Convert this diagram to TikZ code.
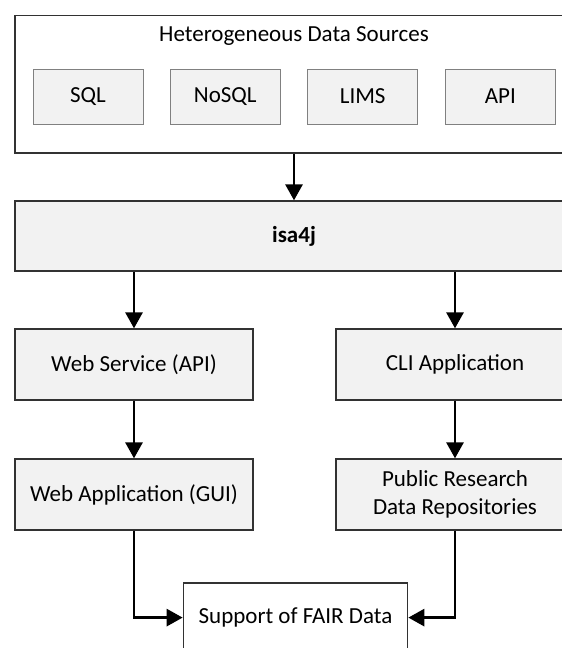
\documentclass[tikz,border=0pt]{standalone}
\usepackage{fontspec}
\setmainfont{Carlito}
\usetikzlibrary{arrows.meta}
\definecolor{boxline}{RGB}{50,50,50}
\definecolor{innerline}{RGB}{128,128,128}
\definecolor{boxfill}{RGB}{242,242,242}
\tikzset{
  txt/.style={font=\fontsize{23}{28}\selectfont, text=black},
  mainbox/.style={txt, draw=boxline, line width=1.3pt, inner sep=0pt, align=center},
  grayfill/.style={mainbox, fill=boxfill},
  innerbox/.style={txt, draw=innerline, line width=0.9pt, fill=boxfill, inner sep=0pt,
    minimum width=110pt, minimum height=55pt},
  conn/.style={line width=2.8pt, black, -{Triangle[length=16pt,width=17pt]}},
}
\begin{document}
\begin{tikzpicture}[x=1pt,y=-1pt]
\useasboundingbox (0,0) rectangle (562,648);
\clip (0,0) rectangle (562,648);
% top container
\node[mainbox, fill=white, minimum width=558pt, minimum height=137.5pt] (src) at (294,84.25) {};
\node[txt] (srctitle) at (294,36) {Heterogeneous Data Sources};
\node[innerbox] (sql) at (88,96.5) {SQL};
\node[innerbox] (nosql) at (225.3,96.5) {NoSQL};
\node[innerbox] (lims) at (362.7,96.5) {LIMS};
\node[innerbox] (api) at (500.3,96.5) {API};
% isa4j
\node[grayfill, minimum width=558pt, minimum height=70pt] (isa) at (294,236) {\textbf{isa4j}};
% second row
\node[grayfill, minimum width=238pt, minimum height=71pt] (ws) at (134,364.5) {Web Service (API)};
\node[grayfill, minimum width=238pt, minimum height=71pt] (cli) at (455,364.5) {CLI Application};
% third row
\node[grayfill, minimum width=238pt, minimum height=71pt] (webapp) at (134,494.5) {Web Application (GUI)};
\node[grayfill, minimum width=238pt, minimum height=71pt] (repo) at (455,494.5) {Public Research\\Data Repositories};
% FAIR
\node[mainbox, fill=white, minimum width=224.4pt, minimum height=69pt] (fair) at (295.5,617.6) {Support of FAIR Data};
% connectors
\draw[conn] (src.south) -- (isa.north);
\draw[conn] (ws.north |- isa.south) -- (ws.north);
\draw[conn] (cli.north |- isa.south) -- (cli.north);
\draw[conn] (ws.south) -- (webapp.north);
\draw[conn] (cli.south) -- (repo.north);
\draw[conn] (webapp.south) |- (fair.west);
\draw[conn] (repo.south) |- (fair.east);
\end{tikzpicture}
\end{document}
